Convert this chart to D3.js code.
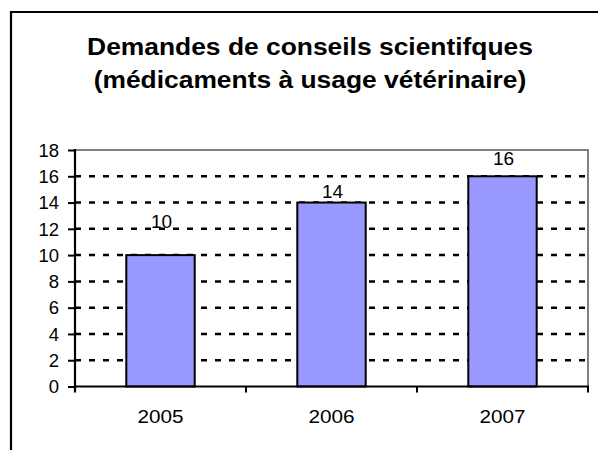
<!DOCTYPE html>
<html><head><meta charset="utf-8">
<script src="https://cdn.jsdelivr.net/npm/d3@7"></script>
<style>body{margin:0;background:#fff}svg{display:block;font-family:"Liberation Sans",Arial,sans-serif}</style>
</head><body>
<svg id="c" width="598" height="450"></svg>
<script>
const titleLines = ["Demandes de conseils scientifques", "(médicaments à usage vétérinaire)"];
const categories = ["2005", "2006", "2007"];
const values = [10, 14, 16];
const yTicks = [0, 2, 4, 6, 8, 10, 12, 14, 16, 18];

// layout (kept separate from data)
const L = {left: 75, right: 588, top: 150, bottom: 386.5};
const labelLift = [27, 5, 11];

const svg = d3.select("#c");

// outer frame (extends beyond the window on right and bottom)
svg.append("path").attr("d", "M11,460 L11,12 L610,12")
  .attr("fill", "none").attr("stroke", "#000").attr("stroke-width", 2.2);

// title
svg.append("g").selectAll("text").data(titleLines).enter().append("text")
  .attr("transform", (d, i) => `translate(310,${55 + i * 33}) scale(1.1,1)`)
  .attr("text-anchor", "middle").attr("font-weight", "bold").attr("font-size", 24)
  .attr("fill", "#000").text(d => d);

const x = d3.scaleBand().domain(categories).range([L.left, L.right]).paddingInner(0.6).paddingOuter(0.3);
const y = d3.scaleLinear().domain([0, 18]).range([L.bottom, L.top]);

// gridlines
svg.append("g").selectAll("line").data(yTicks.filter(t => t > 0 && t < 18)).enter().append("line")
  .attr("x1", L.left).attr("x2", L.right).attr("y1", d => y(d)).attr("y2", d => y(d))
  .attr("stroke", "#000").attr("stroke-width", 2.5).attr("stroke-dasharray", "6,8");

// plot border top/right (gray)
svg.append("path").attr("d", `M${L.left},${y(18)} L${L.right},${y(18)} L${L.right},${L.bottom}`)
  .attr("fill", "none").attr("stroke", "#808080").attr("stroke-width", 2);

// bars
svg.append("g").selectAll("rect").data(values).enter().append("rect")
  .attr("x", (d, i) => x(categories[i])).attr("width", x.bandwidth())
  .attr("y", d => y(d)).attr("height", d => y(0) - y(d))
  .attr("fill", "#9999FF").attr("stroke", "#000").attr("stroke-width", 2);

// value labels
svg.append("g").selectAll("text").data(values).enter().append("text")
  .attr("x", (d, i) => x(categories[i]) + x.bandwidth() / 2 + 1)
  .attr("y", (d, i) => y(d) - labelLift[i])
  .attr("text-anchor", "middle").attr("font-size", 19).attr("fill", "#000").text(d => d);

// y axis
const yAxis = d3.axisLeft(y).tickValues(yTicks).tickSize(7).tickPadding(9);
const gy = svg.append("g").attr("transform", `translate(${L.left},0)`).call(yAxis);
gy.select(".domain").remove();
gy.selectAll(".tick line").attr("stroke", "#000").attr("stroke-width", 2);
gy.selectAll(".tick text").attr("font-size", 18.5).attr("fill", "#000")
  .attr("font-family", "Liberation Sans, Arial, sans-serif").attr("dy", "0.34em");
svg.append("line").attr("x1", L.left).attr("x2", L.left).attr("y1", L.top - 1).attr("y2", L.bottom + 6)
  .attr("stroke", "#000").attr("stroke-width", 2.2);

// x axis
const step = x.step();
const bounds = [0, 1, 2, 3].map(i => L.left + i * step);
svg.append("line").attr("x1", L.left).attr("x2", L.right + 1).attr("y1", L.bottom).attr("y2", L.bottom)
  .attr("stroke", "#000").attr("stroke-width", 2.2);
svg.append("g").selectAll("line").data(bounds.slice(1)).enter().append("line")
  .attr("x1", d => d).attr("x2", d => d).attr("y1", L.bottom).attr("y2", L.bottom + 6)
  .attr("stroke", "#000").attr("stroke-width", 2);
svg.append("g").selectAll("text").data(categories).enter().append("text")
  .attr("transform", d => `translate(${x(d) + x.bandwidth() / 2},423) scale(1.12,1)`)
  .attr("text-anchor", "middle").attr("font-size", 18.5).attr("fill", "#000").text(d => d);
</script>
</body></html>
